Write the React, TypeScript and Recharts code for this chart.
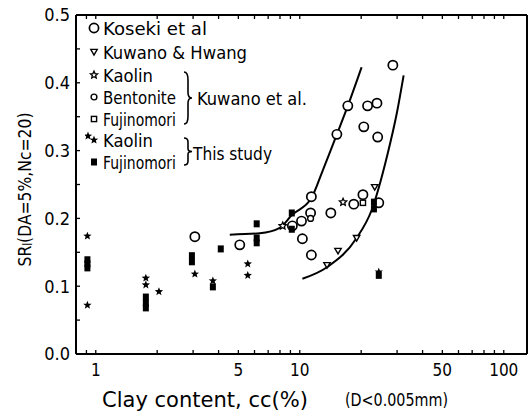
import React from "react";
import { ComposedChart, Scatter, Line, XAxis, YAxis, Legend, Label } from "recharts";

const FONT = "'DejaVu Sans Condensed', 'Liberation Sans Narrow', 'Roboto Condensed', sans-serif";

// [clay content cc (%), SR_l at DA=5%, Nc=20]
const koseki: [number, number][] = [
  [3.06, 0.173], [5.08, 0.161], [9.2, 0.189], [10.2, 0.196], [11.3, 0.208],
  [11.4, 0.232], [14.2, 0.208], [10.3, 0.17], [11.4, 0.146], [18.4, 0.221],
  [20.4, 0.235], [24.4, 0.223], [28.6, 0.426], [17.2, 0.366], [21.5, 0.366],
  [23.9, 0.37], [20.6, 0.335], [24.1, 0.32], [15.2, 0.324],
];
const kuwanoHwang: [number, number][] = [[15.4, 0.152], [13.6, 0.131], [19.0, 0.171], [23.3, 0.246]];
const kuwanoKaolin: [number, number][] = [[8.25, 0.189], [16.3, 0.224]];
const kuwanoBentonite: [number, number][] = [[11.3, 0.2]];
const kuwanoFujinomori: [number, number][] = [[20.4, 0.223]];
const studyKaolin: [number, number][] = [
  [0.91, 0.174], [0.91, 0.072], [1.76, 0.112], [1.76, 0.102], [2.04, 0.092],
  [3.06, 0.118], [3.75, 0.108], [5.56, 0.133], [5.56, 0.116], [24.4, 0.121],
];
const studyFujinomori: [number, number][] = [
  [0.91, 0.139], [0.91, 0.133], [0.91, 0.127], [1.76, 0.084], [1.76, 0.075],
  [1.76, 0.068], [2.96, 0.145], [2.96, 0.136], [3.75, 0.099], [4.1, 0.155],
  [6.15, 0.192], [6.15, 0.171], [6.15, 0.164], [9.14, 0.184], [9.14, 0.208],
  [23.1, 0.224], [23.1, 0.214], [24.4, 0.116],
];

// hand-drawn boundary curves
const leftBound: [number, number][] = [
  [4.54, 0.176], [6.37, 0.178], [7.98, 0.186], [9.14, 0.205], [11.4, 0.23],
  [12.97, 0.271], [15.2, 0.324], [17.2, 0.366], [20.1, 0.423],
];
const rightBound: [number, number][] = [
  [10.3, 0.111], [13.6, 0.128], [19.0, 0.171], [22.5, 0.212], [27.0, 0.296],
  [29.9, 0.355], [32.3, 0.411],
];

const xTicks = [0.9, 1, 2, 3, 4, 5, 6, 7, 8, 9, 10, 20, 30, 40, 50, 60, 70, 80, 90, 100];
const xLabels = [1, 5, 10, 50, 100];
const yTicks = [0, 0.05, 0.1, 0.15, 0.2, 0.25, 0.3, 0.35, 0.4, 0.45, 0.5];
const yLabels = [0, 0.1, 0.2, 0.3, 0.4, 0.5];

const pts = (arr: [number, number][]) => arr.map(([x, y]) => ({ x, y }));

type Kind = "koseki" | "kh" | "kk" | "kb" | "kf" | "sk" | "sf";

const starPoints = (cx: number, cy: number, R: number, r: number) => {
  const out: string[] = [];
  for (let i = 0; i < 10; i++) {
    const a = -Math.PI / 2 + (i * Math.PI) / 5;
    const rad = i % 2 === 0 ? R : r;
    out.push(`${cx + rad * Math.cos(a)},${cy + rad * Math.sin(a)}`);
  }
  return out.join(" ");
};

const Glyph = ({ kind, cx, cy }: { kind: Kind; cx: number; cy: number }) => {
  switch (kind) {
    case "koseki":
      return <circle cx={cx} cy={cy} r={4.6} fill="#fff" stroke="#000" strokeWidth={1.7} />;
    case "kh":
      return (
        <polygon
          points={`${cx - 3.2},${cy - 2.6} ${cx + 3.2},${cy - 2.6} ${cx},${cy + 3}`}
          fill="#fff" stroke="#000" strokeWidth={1.4}
        />
      );
    case "kk":
      return <polygon points={starPoints(cx, cy, 3.8, 1.8)} fill="#fff" stroke="#000" strokeWidth={1.3} />;
    case "kb":
      return <circle cx={cx} cy={cy} r={2.9} fill="#fff" stroke="#000" strokeWidth={1.4} />;
    case "kf":
      return <rect x={cx - 2.6} y={cy - 2.6} width={5.2} height={5.2} fill="#fff" stroke="#000" strokeWidth={1.4} />;
    case "sk":
      return <polygon points={starPoints(cx, cy, 4.4, 1.9)} fill="#000" />;
    case "sf":
      return <rect x={cx - 3} y={cy - 3.5} width={6} height={7} fill="#000" />;
  }
  return null;
};

const shape = (kind: Kind) => (p: any) => <Glyph kind={kind} cx={p.cx} cy={p.cy} />;

const Brace = ({ x, y0, y1 }: { x: number; y0: number; y1: number }) => {
  const w = 4;
  const m = (y0 + y1) / 2;
  const h = y1 - y0;
  const d = `M${x} ${y0} Q${x + w} ${y0} ${x + w} ${y0 + h * 0.15} L${x + w} ${m - h * 0.1} Q${x + w} ${m} ${x + 2 * w} ${m} Q${x + w} ${m} ${x + w} ${m + h * 0.1} L${x + w} ${y1 - h * 0.15} Q${x + w} ${y1} ${x} ${y1}`;
  return <path d={d} fill="none" stroke="#000" strokeWidth={1.6} />;
};

const legendRows: { kind: Kind; label: string; y: number; w: number }[] = [
  { kind: "koseki", label: "Koseki et al", y: 14, w: 104 },
  { kind: "kh", label: "Kuwano & Hwang", y: 38, w: 144 },
  { kind: "kk", label: "Kaolin", y: 61, w: 50 },
  { kind: "kb", label: "Bentonite", y: 83, w: 73 },
  { kind: "kf", label: "Fujinomori", y: 105, w: 73 },
  { kind: "sk", label: "Kaolin", y: 126, w: 50 },
  { kind: "sf", label: "Fujinomori", y: 148, w: 73 },
];

const LegendBox = () => (
  <svg width={240} height={165} style={{ display: "block" }}>
    <g fontFamily={FONT} fontSize={18} fill="#000">
      {legendRows.map((r, i) => (
        <g key={i}>
          {r.kind === "sk" && <Glyph kind="sk" cx={3} cy={r.y - 4} />}
          <Glyph kind={r.kind} cx={9} cy={r.y} />
          <text x={18} y={r.y} dominantBaseline="central" textLength={r.w} lengthAdjust="spacingAndGlyphs">
            {r.label}
          </text>
        </g>
      ))}
      <Brace x={99} y0={58} y1={110} />
      <text x={112} y={84} dominantBaseline="central" textLength={110} lengthAdjust="spacingAndGlyphs">
        Kuwano et al.
      </text>
      <Brace x={99} y0={124} y1={151} />
      <text x={108} y={139} dominantBaseline="central" textLength={79} lengthAdjust="spacingAndGlyphs">
        This study
      </text>
    </g>
  </svg>
);

const YTitle = ({ viewBox }: any) => {
  const cx = viewBox.x + 24;
  const cy = viewBox.y + viewBox.height / 2 + 5;
  return (
    <text
      x={cx} y={cy} transform={`rotate(-90 ${cx} ${cy})`} textAnchor="middle"
      dominantBaseline="central" fontFamily={FONT} fontSize={18} fill="#000"
      textLength={154} lengthAdjust="spacingAndGlyphs"
    >
      SR<tspan dy={4} fontSize={12}>l</tspan>
      <tspan dy={-4}>(DA=5%,Nc=20)</tspan>
    </text>
  );
};

const XTitle = ({ viewBox }: any) => (
  <g fontFamily={FONT} fill="#000">
    <text
      x={viewBox.x + 26} y={viewBox.y + 46} dominantBaseline="central" fontSize={21}
      textLength={206} lengthAdjust="spacingAndGlyphs"
    >
      Clay content, cc(%)
    </text>
    <text
      x={viewBox.x + 269} y={viewBox.y + 46} dominantBaseline="central" fontSize={17}
      textLength={103} lengthAdjust="spacingAndGlyphs"
    >
      (D&lt;0.005mm)
    </text>
  </g>
);

const axisLine = { stroke: "#000", strokeWidth: 2 };
const tickLine = { stroke: "#000", strokeWidth: 1.3 };
const tickText = { fontFamily: FONT, fontSize: 18, fill: "#000" };

export default function App() {
  return (
    <div style={{ position: "absolute", left: 0, top: 0, background: "#fff" }}>
      <ComposedChart width={532} height={417} margin={{ top: 10, right: 0, bottom: 0, left: 0 }}>
        <XAxis
          dataKey="x" type="number" scale="log" domain={[0.8, 130]} allowDataOverflow
          ticks={xTicks} interval={0} height={63} tickSize={-4} tickMargin={14}
          axisLine={axisLine} tickLine={tickLine} tick={{ ...tickText, fontSize: 17 }}
          tickFormatter={(v: number) => (xLabels.includes(v) ? String(v) : "")}
        >
          <Label content={XTitle} />
        </XAxis>
        <XAxis
          xAxisId="top" orientation="top" dataKey="x" type="number" scale="log"
          domain={[0.8, 130]} allowDataOverflow ticks={xTicks} interval={0} height={5}
          tickSize={-4} axisLine={axisLine} tickLine={tickLine} tickFormatter={() => ""}
        />
        <YAxis
          dataKey="y" type="number" domain={[0, 0.5]} ticks={yTicks} interval={0}
          width={76} tickSize={-4} tickMargin={10} axisLine={axisLine} tickLine={tickLine}
          tick={tickText}
          tickFormatter={(v: number) => (yLabels.some((l) => Math.abs(l - v) < 1e-6) ? v.toFixed(1) : "")}
        >
          <Label content={YTitle} />
        </YAxis>
        <YAxis
          yAxisId="r" orientation="right" type="number" domain={[0, 0.5]} width={5}
          axisLine={axisLine} tickLine={false} tickFormatter={() => ""}
        />
        <Legend
          layout="vertical" align="center" verticalAlign="middle"
          content={() => <LegendBox />}
          wrapperStyle={{ position: "absolute", left: 85, top: 14, width: 240 }}
        />
        <Line data={pts(leftBound)} dataKey="y" type="monotone" stroke="#000" strokeWidth={2} dot={false} isAnimationActive={false} />
        <Line data={pts(rightBound)} dataKey="y" type="monotone" stroke="#000" strokeWidth={2} dot={false} isAnimationActive={false} />
        <Scatter data={pts(koseki)} shape={shape("koseki")} isAnimationActive={false} />
        <Scatter data={pts(kuwanoHwang)} shape={shape("kh")} isAnimationActive={false} />
        <Scatter data={pts(kuwanoKaolin)} shape={shape("kk")} isAnimationActive={false} />
        <Scatter data={pts(kuwanoBentonite)} shape={shape("kb")} isAnimationActive={false} />
        <Scatter data={pts(kuwanoFujinomori)} shape={shape("kf")} isAnimationActive={false} />
        <Scatter data={pts(studyFujinomori)} shape={shape("sf")} isAnimationActive={false} />
        <Scatter data={pts(studyKaolin)} shape={shape("sk")} isAnimationActive={false} />
      </ComposedChart>
    </div>
  );
}
